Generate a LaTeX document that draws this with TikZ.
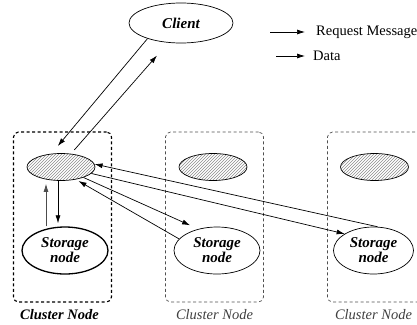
\documentclass[tikz,border=0pt]{standalone}
\usepackage{fontspec}
\setmainfont{Liberation Serif}
\usepackage{tikz}
\usetikzlibrary{shapes,arrows.meta,positioning,patterns}
\definecolor{clustergray}{HTML}{505050}
\definecolor{hatchgray}{HTML}{8C8C8C}
\tikzstyle{cluster} = [rectangle, draw=clustergray, dash pattern=on 3pt off 2.5pt, rounded corners=5pt,
    minimum width=98pt, minimum height=170pt, line width=0.7pt, outer sep=0pt]
\tikzstyle{cache} = [ellipse, draw, pattern=north east lines, pattern color=hatchgray,
    minimum width=68pt, minimum height=27pt, line width=0.7pt]
\tikzstyle{store} = [ellipse, draw, line width=0.7pt, minimum width=86pt, minimum height=47pt,
    inner sep=0pt, align=center, font=\fontsize{15}{15}\selectfont\bfseries\itshape]
\tikzstyle{clabel} = [inner sep=0pt, text=black!75, font=\fontsize{14.5}{16}\selectfont\itshape]
\tikzstyle{legend} = [inner sep=0pt, anchor=west, font=\fontsize{14.5}{16}\selectfont]
\tikzstyle{arrow} = [-{Latex[length=8pt,width=5pt]}, line width=0.7pt]

\begin{document}
\begin{tikzpicture}[x=1pt, y=-1pt]
\clip (0,0) rectangle (417,324);
\node[ellipse, draw, line width=0.7pt, minimum width=104pt, minimum height=40pt,
    font=\fontsize{15}{16}\selectfont\bfseries\itshape] (client) at (181,23) {Client};

% legend
\coordinate (reqtail) at (270,32);
\coordinate (datatail) at (276,56);
\node[legend] (reqlbl) at (316,32) {Request Message};
\node[legend] (datalbl) at (313,56) {Data};
\draw[arrow, shorten >=11pt] (reqtail) -- (reqlbl);
\draw[arrow, shorten >=8pt] (datatail) -- (datalbl);

% cluster nodes
\node[cluster, draw=black, line width=1.1pt] (boxL) at (62.5,217) {};
\node[cluster, right=54pt of boxL] (boxM) {};
\node[cluster, right=64pt of boxM] (boxR) {};
\node[clabel, text=black, font=\fontsize{14.5}{16}\selectfont\bfseries\itshape, below=7pt of boxL, xshift=-3pt] (lblL) {Cluster Node};
\node[clabel, below=7pt of boxM] (lblM) {Cluster Node};
\node[clabel, below=7pt of boxR, xshift=-3pt] (lblR) {Cluster Node};

\node[cache] (cacheL) at (61,167) {};
\node[cache] (cacheM) at (213,167) {};
\node[cache] (cacheR) at (374.5,167) {};
\node[store, line width=1.3pt] (storL) at (65,250.5) {Storage\\node};
\node[store] (storM) at (217,250.5) {Storage\\node};
\node[store, minimum width=80pt] (storR) at (373.5,250.5) {Storage\\node};

\draw[arrow, shorten >=10pt] (client.205) -- (cacheL.126);
\draw[arrow, shorten <=5pt, shorten >=17pt] (cacheL.53) -- (client.237);
\draw[arrow, shorten >=3pt] ([xshift=-3pt]cacheL.south) -- ([xshift=-3pt]cacheL.south |- storL.north);
\draw[arrow, black!70, shorten >=3pt] ([xshift=-15pt]cacheL.south |- storL.north) -- ([xshift=-15pt]cacheL.south);
\draw[arrow, shorten >=9pt] (cacheL.335) -- (storM.131);
\draw[arrow, shorten >=3pt] (storM.163) -- (cacheL.320);
\draw[arrow] (storR.80) -- (cacheL.5);
\draw[arrow] (cacheL.348) -- (storR.150);
\end{tikzpicture}
\end{document}
